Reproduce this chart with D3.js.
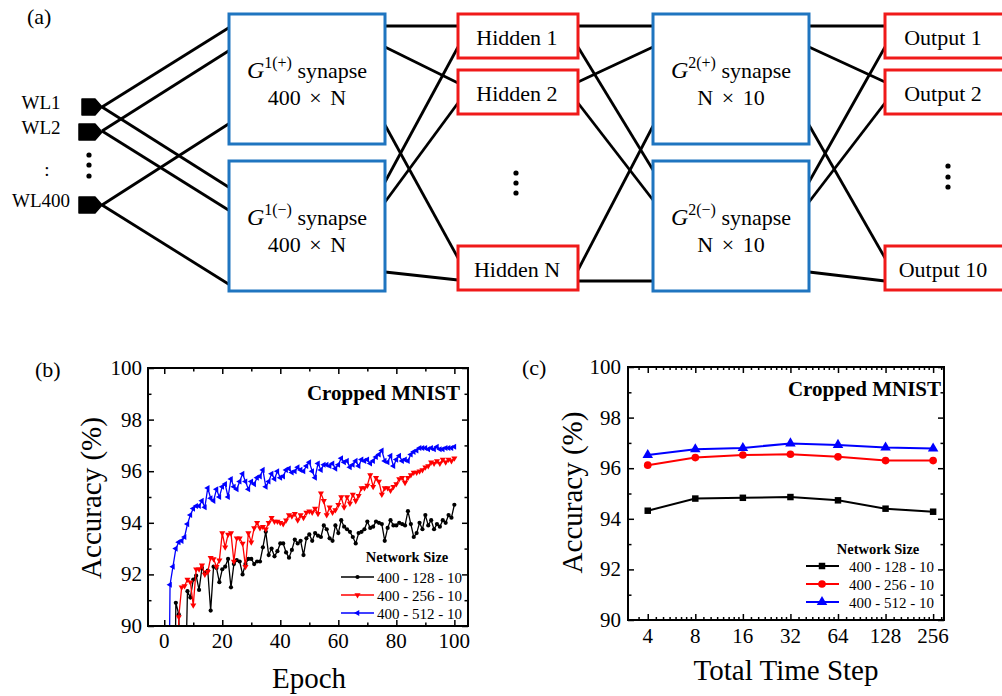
<!DOCTYPE html>
<html>
<head>
<meta charset="utf-8">
<script src="https://cdn.jsdelivr.net/npm/d3@7"></script>
<style>
  body { margin: 0; background: #fff; }
  svg, text { font-family: "Liberation Serif", "Times New Roman", serif; }
</style>
</head>
<body>
<svg width="1002" height="696"></svg>
<script>
// ---- data: panel (b) accuracy vs epoch ----
var acc128 = [80,80,80,90.9,90.45,86,86,91.35,91.1,91.8,
  91.95,91.4,92.25,92.05,92.15,90.6,92.3,92.25,91.7,92.2,
  92.3,92.6,91.5,92.4,92.55,92.5,92.0,92.4,92.6,92.6,
  92.4,92.5,92.5,93.05,93.65,92.75,93.0,92.7,92.9,93.2,
  93.2,92.85,92.65,92.95,93.35,93.2,93.3,92.75,93.4,93.55,
  93.3,93.6,93.5,93.45,93.9,93.75,93.4,93.3,93.9,93.6,
  94.1,93.85,93.75,93.65,93.45,93.2,93.6,93.65,93.75,94.05,
  93.8,93.85,94.05,94.0,93.95,93.3,93.8,94.1,93.9,93.9,
  94.0,93.95,93.9,94.45,93.95,93.45,93.6,94.0,93.75,94.3,
  93.9,94.1,93.75,93.95,93.85,94.1,94.0,94.3,94.2,94.7];
var acc256 = [80,80,80,80,90.35,91.5,91.55,91.8,91.7,90.8,
  92.2,92.2,92.35,92.0,92.1,92.65,92.6,92.3,92.55,93.6,
  93.05,93.55,93.6,92.5,93.4,93.4,93.2,92.3,93.6,93.25,
  93.8,94.0,93.8,93.85,93.75,94.0,94.2,94.05,94.05,94.0,
  93.95,94.1,94.3,94.25,94.35,94.1,94.3,94.2,94.4,94.45,
  94.4,94.55,94.35,95.15,94.85,94.3,94.6,94.4,94.5,94.7,
  95.0,94.6,95.0,94.75,95.1,94.85,95.05,95.35,95.35,95.45,
  95.85,95.4,95.75,95.6,95.1,95.35,95.35,95.25,95.4,95.5,
  95.7,95.75,95.55,95.75,95.85,95.95,95.95,96.0,96.05,96.15,
  96.2,96.35,96.3,96.4,96.3,96.45,96.35,96.45,96.4,96.5];
var acc512 = [80,91.6,92.3,93.0,93.25,93.3,93.45,93.95,94.3,94.55,
  94.65,94.65,94.85,94.6,95.35,94.95,94.85,95.3,95.0,95.4,
  95.5,95.0,95.7,95.4,95.3,95.6,95.9,95.6,95.3,95.6,
  95.5,95.75,95.8,96.05,95.4,95.6,95.9,95.7,96.0,95.75,
  95.8,96.05,96.1,95.95,96.0,96.15,96.05,96.0,96.2,96.35,
  96.0,95.75,96.3,96.05,96.25,96.25,96.2,96.3,96.1,96.25,
  96.5,96.35,96.4,96.15,96.25,96.4,96.2,96.45,96.4,96.45,
  96.3,96.4,96.55,96.65,96.8,96.4,96.35,96.6,96.2,96.45,
  96.6,96.4,96.45,96.4,96.65,96.75,96.8,96.9,96.9,96.9,
  96.85,96.9,96.85,96.95,96.85,96.85,96.9,96.9,96.9,96.95];

// ---- data: panel (c) accuracy vs total time step ----
var timeSteps = [4, 8, 16, 32, 64, 128, 256];
var step128 = [94.32, 94.8, 94.83, 94.86, 94.73, 94.4, 94.28];
var step256 = [96.12, 96.42, 96.52, 96.55, 96.45, 96.3, 96.3];
var step512 = [96.52, 96.75, 96.8, 96.98, 96.92, 96.82, 96.78];

var seriesNames = ["400 - 128 - 10", "400 - 256 - 10", "400 - 512 - 10"];
var accTicks = [90, 92, 94, 96, 98, 100];
var epochTicks = [0, 20, 40, 60, 80, 100];

var svg = d3.select("svg");
svg.append("rect").attr("width", 1002).attr("height", 696).attr("fill", "#fff");

// ================= panel (a): network diagram =================
var blue = "#1f75c0", red = "#f01a1a";
var diag = svg.append("g");

diag.append("text").attr("x", 27).attr("y", 24).style("font-size", "22px").text("(a)");

// word-line drivers
var drivers = [
  {label: "WL1", y: 107, x0: 82},
  {label: "WL2", y: 132, x0: 79},
  {label: "WL400", y: 205, x0: 79}
];
diag.selectAll(".drv").data(drivers).enter().append("path")
  .attr("d", function (d) { return "M" + d.x0 + "," + (d.y - 8) + "H95L102," + d.y + "L95," + (d.y + 8) + "H" + d.x0 + "Z"; })
  .attr("fill", "#000").attr("stroke", "#000").attr("stroke-width", 1.5).attr("stroke-linejoin", "round");
diag.selectAll(".wl").data(drivers).enter().append("text")
  .attr("x", 41).attr("y", function (d) { return d.y + 2; })
  .attr("text-anchor", "middle").style("font-size", "19px").text(function (d) { return d.label; });
diag.append("text").attr("x", 47).attr("y", 176).attr("text-anchor", "middle").style("font-size", "19px").text(":");

// vertical ellipsis dots
var dotGroups = [{x: 89, y: [155, 165, 176]}, {x: 516, y: [173, 183, 193]}, {x: 948, y: [166, 177, 187]}];
dotGroups.forEach(function (g) {
  diag.selectAll(null).data(g.y).enter().append("circle")
    .attr("cx", g.x).attr("cy", function (d) { return d; }).attr("r", 2.6).attr("fill", "#000");
});

// wires (drawn under boxes)
var wires = [
  [102,107,230,27],[102,107,230,188],[102,131,230,50],[102,131,230,211],[102,205,230,123],[102,205,230,285],
  [385,26,458,26],[385,47,458,83],[385,125,458,258],[385,182,458,47],[385,202,458,103],[385,272,458,280],
  [578,26,653,26],[578,47,653,170],[578,82,653,47],[578,103,653,200],[578,270,653,126],[578,281,653,281],
  [809,26,885,26],[809,47,885,82],[809,125,885,258],[809,182,885,47],[809,202,885,103],[809,272,885,281]
];
diag.selectAll(".wire").data(wires).enter().append("line")
  .attr("x1", function (d) { return d[0]; }).attr("y1", function (d) { return d[1]; })
  .attr("x2", function (d) { return d[2]; }).attr("y2", function (d) { return d[3]; })
  .attr("stroke", "#000").attr("stroke-width", 2.8);

// synapse arrays
var synapses = [
  {x: 229, y: 14, sup: "1(+)", dims: "400 \u00d7 N"},
  {x: 229, y: 161, sup: "1(\u2212)", dims: "400 \u00d7 N"},
  {x: 653, y: 14, sup: "2(+)", dims: "N \u00d7 10"},
  {x: 653, y: 161, sup: "2(\u2212)", dims: "N \u00d7 10"}
];
var syn = diag.selectAll(".syn").data(synapses).enter().append("g");
syn.append("rect").attr("x", function (d) { return d.x; }).attr("y", function (d) { return d.y; })
  .attr("width", 156).attr("height", 130).attr("fill", "#fff").attr("stroke", blue).attr("stroke-width", 3);
var t1 = syn.append("text").attr("x", function (d) { return d.x + 78; }).attr("y", function (d) { return d.y + 64; })
  .attr("text-anchor", "middle").style("font-size", "22px");
t1.append("tspan").style("font-style", "italic").style("font-size", "24px").text("G");
t1.append("tspan").attr("dy", -10).style("font-size", "16px").text(function (d) { return d.sup; });
t1.append("tspan").attr("dy", 10).text(" synapse");
syn.append("text").attr("x", function (d) { return d.x + 78; }).attr("y", function (d) { return d.y + 91; })
  .attr("text-anchor", "middle").style("font-size", "22px").style("word-spacing", "3px")
  .text(function (d) { return d.dims; });

// neuron boxes
var neurons = [
  {x: 458, y: 14, w: 120, label: "Hidden 1"},
  {x: 458, y: 70, w: 120, label: "Hidden 2"},
  {x: 458, y: 246, w: 120, label: "Hidden N"},
  {x: 885, y: 14, w: 120, label: "Output 1"},
  {x: 885, y: 70, w: 120, label: "Output 2"},
  {x: 885, y: 246, w: 120, label: "Output 10"}
];
var nb = diag.selectAll(".nb").data(neurons).enter().append("g");
nb.append("rect").attr("x", function (d) { return d.x; }).attr("y", function (d) { return d.y; })
  .attr("width", function (d) { return d.w; }).attr("height", 44)
  .attr("fill", "#fff").attr("stroke", red).attr("stroke-width", 3);
nb.append("text").attr("x", function (d) { return d.x + (d.x > 800 ? 58 : 59); })
  .attr("y", function (d) { return d.y + 31; })
  .attr("text-anchor", "middle").style("font-size", "22px").text(function (d) { return d.label; });

// ================= shared helpers for plots =================
var colors = ["#000000", "#ff0000", "#0000ff"];

function drawFrame(g, x0, x1, y0, y1) {
  g.append("rect").attr("x", x0).attr("y", y0).attr("width", x1 - x0).attr("height", y1 - y0)
    .attr("fill", "none").attr("stroke", "#000").attr("stroke-width", 2);
}

function cleanAxis(a) {
  a.select(".domain").remove();
  a.selectAll("line").attr("stroke-width", 1.5);
}

function yAxes(g, y, x0, x1, labelX) {
  var minor = d3.range(91, 100, 2);
  g.append("g").attr("transform", "translate(" + x0 + ",0)")
    .call(d3.axisLeft(y).tickValues(accTicks).tickSize(-6).tickFormat("")).call(cleanAxis);
  g.append("g").attr("transform", "translate(" + x1 + ",0)")
    .call(d3.axisRight(y).tickValues(accTicks).tickSize(-6).tickFormat("")).call(cleanAxis);
  g.append("g").attr("transform", "translate(" + x0 + ",0)")
    .call(d3.axisLeft(y).tickValues(minor).tickSize(-3.5).tickFormat("")).call(cleanAxis);
  g.append("g").attr("transform", "translate(" + x1 + ",0)")
    .call(d3.axisRight(y).tickValues(minor).tickSize(-3.5).tickFormat("")).call(cleanAxis);
  g.selectAll(null).data(accTicks).enter().append("text")
    .attr("x", labelX).attr("y", function (d) { return y(d) + 7; })
    .attr("text-anchor", "end").style("font-size", "21px").text(function (d) { return d; });
}

// ================= panel (b): accuracy vs epoch =================
var pb = svg.append("g");
var bx0 = 148, bx1 = 468, by0 = 368, by1 = 626;
var xb = d3.scaleLinear().domain([-5.6, 104.7]).range([bx0, bx1]);
var yb = d3.scaleLinear().domain([90, 100]).range([by1, by0]);
var epochs = d3.range(1, 101);

pb.append("text").attr("x", 35).attr("y", 377).style("font-size", "22px").text("(b)");

svg.append("defs").append("clipPath").attr("id", "clipB")
  .append("rect").attr("x", bx0).attr("y", by0).attr("width", bx1 - bx0).attr("height", by1 - by0);

var bSeries = [acc128, acc256, acc512];
var bSymbols = [
  {type: d3.symbolCircle, size: 14, rot: 0},
  {type: d3.symbolTriangle, size: 16, rot: 180},
  {type: d3.symbolTriangle, size: 16, rot: -90}
];
var lineB = d3.line().x(function (d, i) { return xb(epochs[i]); }).y(function (d) { return yb(d); });
var plotB = pb.append("g").attr("clip-path", "url(#clipB)");
bSeries.forEach(function (s, k) {
  plotB.append("path").datum(s).attr("d", lineB).attr("fill", "none")
    .attr("stroke", colors[k]).attr("stroke-width", 1.3);
  plotB.selectAll(null).data(s).enter().append("path")
    .attr("d", d3.symbol().type(bSymbols[k].type).size(bSymbols[k].size))
    .attr("transform", function (d, i) { return "translate(" + xb(epochs[i]) + "," + yb(d) + ") rotate(" + bSymbols[k].rot + ")"; })
    .attr("fill", colors[k]);
});

drawFrame(pb, bx0, bx1, by0, by1);
[by0, by1].forEach(function (yy, j) {
  var mk = function () { return j ? d3.axisBottom(xb) : d3.axisTop(xb); };
  pb.append("g").attr("transform", "translate(0," + yy + ")")
    .call(mk().tickValues(epochTicks).tickSize(-6).tickFormat("")).call(cleanAxis);
  pb.append("g").attr("transform", "translate(0," + yy + ")")
    .call(mk().tickValues(d3.range(10, 100, 20)).tickSize(-3.5).tickFormat("")).call(cleanAxis);
});
pb.selectAll(".xl").data(epochTicks).enter().append("text")
  .attr("x", function (d) { return xb(d); }).attr("y", 648)
  .attr("text-anchor", "middle").style("font-size", "21px").text(function (d) { return d; });
yAxes(pb, yb, bx0, bx1, 142);

pb.append("text").attr("transform", "translate(101," + ((by0 + by1) / 2 + 1) + ") rotate(-90)")
  .attr("text-anchor", "middle").style("font-size", "29px").text("Accuracy (%)");
pb.append("text").attr("x", 309).attr("y", 688).attr("text-anchor", "middle").style("font-size", "29px").text("Epoch");
pb.append("text").attr("x", 460).attr("y", 400).attr("text-anchor", "end")
  .style("font-size", "21px").style("font-weight", "bold").text("Cropped MNIST");

// legend (b)
pb.append("text").attr("x", 407).attr("y", 562).attr("text-anchor", "middle")
  .style("font-size", "14.5px").style("font-weight", "bold").text("Network Size");
var legB = pb.selectAll(".legb").data(seriesNames).enter().append("g")
  .attr("transform", function (d, i) { return "translate(0," + (577 + i * 18) + ")"; });
legB.append("line").attr("x1", 341).attr("x2", 374).attr("stroke", function (d, i) { return colors[i]; }).attr("stroke-width", 1.3);
legB.append("path")
  .attr("d", function (d, i) { return d3.symbol().type(bSymbols[i].type).size(bSymbols[i].size)(); })
  .attr("transform", function (d, i) { return "translate(357.5,0) rotate(" + bSymbols[i].rot + ")"; })
  .attr("fill", function (d, i) { return colors[i]; });
legB.append("text").attr("x", 377).attr("y", 5.5).style("font-size", "15px").text(function (d) { return d; });

// ================= panel (c): accuracy vs total time step =================
var pc = svg.append("g");
var cx0 = 628, cx1 = 944, cy0 = 367, cy1 = 620;
var xc = d3.scaleLog().base(2).domain([3, 300]).range([cx0, cx1]);
var yc = d3.scaleLinear().domain([90, 100]).range([cy1, cy0]);

pc.append("text").attr("x", 522).attr("y", 375).style("font-size", "22px").text("(c)");

var cSeries = [step128, step256, step512];
var cSymbols = [
  {type: d3.symbolSquare, size: 42},
  {type: d3.symbolCircle, size: 46},
  {type: d3.symbolTriangle, size: 48}
];
var lineC = d3.line().x(function (d, i) { return xc(timeSteps[i]); }).y(function (d) { return yc(d); });
cSeries.forEach(function (s, k) {
  pc.append("path").datum(s).attr("d", lineC).attr("fill", "none")
    .attr("stroke", colors[k]).attr("stroke-width", 2);
  pc.selectAll(null).data(s).enter().append("path")
    .attr("d", d3.symbol().type(cSymbols[k].type).size(cSymbols[k].size))
    .attr("transform", function (d, i) { return "translate(" + xc(timeSteps[i]) + "," + yc(d) + ")"; })
    .attr("fill", colors[k]);
});

drawFrame(pc, cx0, cx1, cy0, cy1);
// minor log ticks between the time steps
var minorC = [];
timeSteps.concat([512]).forEach(function (t) {
  [0.375, 0.5, 0.625, 0.75, 0.875, 1.125, 1.25, 1.375, 1.5, 1.625, 1.75, 1.875].forEach(function (f) {
    var v = t * f;
    if (v > 3 && v < 300 && timeSteps.indexOf(v) < 0 && minorC.indexOf(v) < 0) minorC.push(v);
  });
});
[cy0, cy1].forEach(function (yy, j) {
  var mk = function () { return j ? d3.axisBottom(xc) : d3.axisTop(xc); };
  pc.append("g").attr("transform", "translate(0," + yy + ")")
    .call(mk().tickValues(timeSteps).tickSize(-6).tickFormat("")).call(cleanAxis);
  pc.append("g").attr("transform", "translate(0," + yy + ")")
    .call(mk().tickValues(minorC).tickSize(-3).tickFormat("")).call(cleanAxis);
});
pc.selectAll(".xl").data(timeSteps).enter().append("text")
  .attr("x", function (d) { return xc(d); }).attr("y", 643)
  .attr("text-anchor", "middle").style("font-size", "21px").text(function (d) { return d; });
yAxes(pc, yc, cx0, cx1, 621);

pc.append("text").attr("transform", "translate(582," + ((cy0 + cy1) / 2 - 1) + ") rotate(-90)")
  .attr("text-anchor", "middle").style("font-size", "29px").text("Accuracy (%)");
pc.append("text").attr("x", 786).attr("y", 680).attr("text-anchor", "middle").style("font-size", "29px").text("Total Time Step");
pc.append("text").attr("x", 941).attr("y", 396).attr("text-anchor", "end")
  .style("font-size", "21px").style("font-weight", "bold").text("Cropped MNIST");

// legend (c)
pc.append("text").attr("x", 878).attr("y", 554).attr("text-anchor", "middle")
  .style("font-size", "14.5px").style("font-weight", "bold").text("Network Size");
var legC = pc.selectAll(".legc").data(seriesNames).enter().append("g")
  .attr("transform", function (d, i) { return "translate(0," + (566 + i * 18) + ")"; });
legC.append("line").attr("x1", 806).attr("x2", 839).attr("stroke", function (d, i) { return colors[i]; }).attr("stroke-width", 2);
legC.append("path")
  .attr("d", function (d, i) { return d3.symbol().type(cSymbols[i].type).size(cSymbols[i].size)(); })
  .attr("transform", "translate(822,0)")
  .attr("fill", function (d, i) { return colors[i]; });
legC.append("text").attr("x", 849).attr("y", 5.5).style("font-size", "15px").text(function (d) { return d; });
</script>
</body>
</html>
